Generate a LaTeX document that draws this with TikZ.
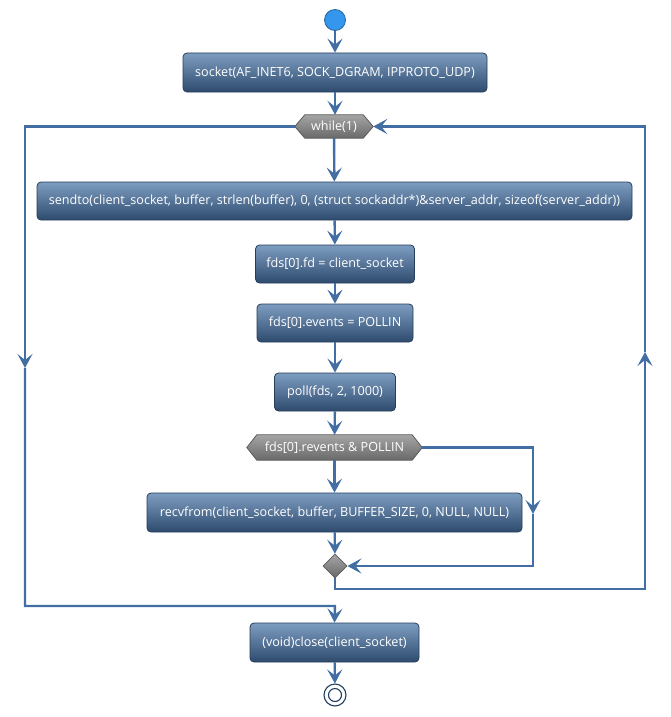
\documentclass[tikz,border=0pt]{standalone}
\usepackage{fontspec}
\setmainfont{Open Sans}
\usetikzlibrary{arrows.meta,backgrounds,shapes.geometric}
\definecolor{linec}{RGB}{66,110,164}
\definecolor{boxtop}{RGB}{125,157,192}
\definecolor{boxbot}{RGB}{46,75,110}
\definecolor{boxborder}{RGB}{38,62,92}
\definecolor{hextop}{RGB}{165,165,165}
\definecolor{hexbot}{RGB}{105,105,105}
\definecolor{hexborder}{RGB}{90,90,90}
\definecolor{startfill}{RGB}{52,150,236}
\definecolor{startborder}{RGB}{40,100,160}
\definecolor{endc}{RGB}{34,62,96}
\newcommand\hexbg[2]{\begin{pgfonlayer}{background}\shade[draw=hexborder, line width=0.8pt, top color=hextop, bottom color=hexbot] (#1.west) -- ([xshift=#2]#1.north west) -- ([xshift=-#2]#1.north east) -- (#1.east) -- ([xshift=-#2]#1.south east) -- ([xshift=#2]#1.south west) -- cycle;\end{pgfonlayer}}
\tikzset{
  act/.style={rectangle, rounded corners=4pt, draw=boxborder, line width=0.8pt, top color=boxtop, bottom color=boxbot, text=white, font=\fontsize{12.6}{14}\selectfont, minimum height=39pt, inner sep=0pt},
  hexnode/.style={rectangle, text=white, font=\fontsize{12.6}{14}\selectfont, inner sep=0pt},
  flow/.style={draw=linec, line width=2.4pt, -{Stealth[length=14pt,width=15pt,inset=6pt]}},
  plain/.style={draw=linec, line width=2.4pt}
}
\begin{document}
\begin{tikzpicture}[x=1pt,y=-1pt]
\useasboundingbox (0,0) rectangle (671,717);
\node[circle, fill=startfill, draw=startborder, line width=0.8pt, minimum size=21pt, inner sep=0pt] (start) at (335,20) {};
\node[act, minimum width=304pt] (socket) at (335,72.5) {socket(AF\_INET6, SOCK\_DGRAM, IPPROTO\_UDP)};
\node[hexnode, minimum width=78pt, minimum height=23pt] (while) at (334,126.5) {while(1)};
\hexbg{while}{10pt}
\node[act, minimum width=595pt, minimum height=38pt] (sendto) at (334.5,201) {sendto(client\_socket, buffer, strlen(buffer), 0, (struct sockaddr*)\&server\_addr, sizeof(server\_addr))};
\node[act, minimum width=159pt, minimum height=38pt] (fd) at (335,264) {fds[0].fd = client\_socket};
\node[act, minimum width=156pt, minimum height=38pt] (events) at (335,323) {fds[0].events = POLLIN};
\node[act, minimum width=121pt, minimum height=38pt] (poll) at (335,392) {poll(fds, 2, 1000)};
\node[hexnode, minimum width=175pt, minimum height=25pt] (rev) at (334.5,447.5) {fds[0].revents \& POLLIN};
\hexbg{rev}{10pt}
\node[act, minimum width=375pt] (recv) at (334.5,512.5) {recvfrom(client\_socket, buffer, BUFFER\_SIZE, 0, NULL, NULL)};
\node[diamond, aspect=1, minimum width=24pt, minimum height=24pt, inner sep=0pt, draw=hexborder, line width=0.8pt, top color=hextop, bottom color=hexbot] (dia) at (335,566) {};
\node[act, minimum width=169pt] (close) at (334.5,642.5) {(void)close(client\_socket)};
\node[circle, draw=endc, line width=1.1pt, minimum size=22pt, inner sep=0pt, fill=white] (end) at (335,695) {};
\node[circle, draw=endc, line width=1.1pt, minimum size=13pt, inner sep=0pt] (endin) at (335,695) {};
% main flow
\draw[flow] (start) -- (socket);
\draw[flow] (socket) -- (socket |- while.north);
\draw[flow] (while) -- (sendto);
\draw[flow] (sendto) -- (fd);
\draw[flow] (fd) -- (events);
\draw[flow] (events) -- (poll);
\draw[flow] (poll) -- (rev);
\draw[flow] (rev) -- (recv);
\draw[flow] (recv) -- (dia);
% skip branch
\coordinate (ra) at (533,514);
\draw[flow] (rev.east) -| (ra);
\draw[flow] (ra) |- (dia.east);
% loop back
\coordinate (rb) at (335,589);
\coordinate (rc) at (645,589);
\coordinate (rd) at (645,352);
\draw[flow] (dia.south) -- (rb) -- (rc) -- (rd);
\draw[flow] (rd) |- (while.east);
% exit
\coordinate (la) at (25,368);
\coordinate (lc) at (25,606);
\coordinate (ld) at (335,606);
\draw[flow] (while.west) -| (la);
\draw[flow] (la) -- (lc) -- (ld) -- (close.north);
\draw[flow] (close) -- (end);
\end{tikzpicture}
\end{document}
